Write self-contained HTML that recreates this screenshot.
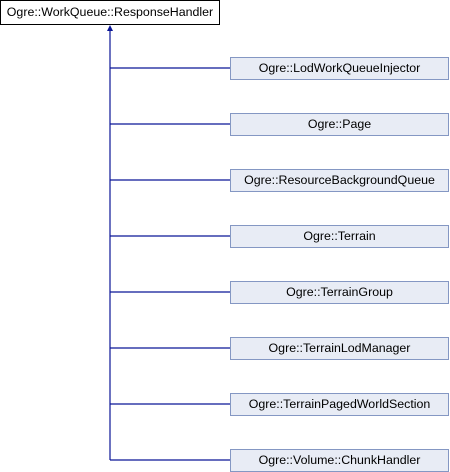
<!DOCTYPE html>
<html><head><style>
body{margin:0;width:450px;height:472px;background:#fff;position:relative;font-family:"Liberation Sans",Arial,sans-serif;font-size:12.4px;overflow:hidden}
.b{position:absolute;box-sizing:border-box;text-align:center;color:#000}
.c{left:230px;width:219px;height:23px;line-height:21px;background:#e8ecf5;border:1px solid #8497c3}
.r{left:0;top:0;width:220px;height:25px;line-height:23px;background:#fff;border:1px solid #000}
</style></head><body>
<svg width="450" height="472" style="position:absolute;left:0;top:0">
<g stroke="#0b1696" stroke-width="1.2" fill="none">
<line x1="110" y1="30" x2="110" y2="460"/>
<line x1="110" y1="68" x2="230" y2="68"/>
<line x1="110" y1="124" x2="230" y2="124"/>
<line x1="110" y1="180" x2="230" y2="180"/>
<line x1="110" y1="236" x2="230" y2="236"/>
<line x1="110" y1="292" x2="230" y2="292"/>
<line x1="110" y1="348" x2="230" y2="348"/>
<line x1="110" y1="404" x2="230" y2="404"/>
<line x1="110" y1="460" x2="230" y2="460"/>
</g>
<polygon points="110,25 107,31 113,31" fill="#0b1696"/>
</svg>
<div class="b r">Ogre::WorkQueue::ResponseHandler</div>
<div class="b c" style="top:57px">Ogre::LodWorkQueueInjector</div>
<div class="b c" style="top:113px">Ogre::Page</div>
<div class="b c" style="top:169px">Ogre::ResourceBackgroundQueue</div>
<div class="b c" style="top:225px">Ogre::Terrain</div>
<div class="b c" style="top:281px">Ogre::TerrainGroup</div>
<div class="b c" style="top:337px">Ogre::TerrainLodManager</div>
<div class="b c" style="top:393px">Ogre::TerrainPagedWorldSection</div>
<div class="b c" style="top:449px">Ogre::Volume::ChunkHandler</div>
</body></html>
